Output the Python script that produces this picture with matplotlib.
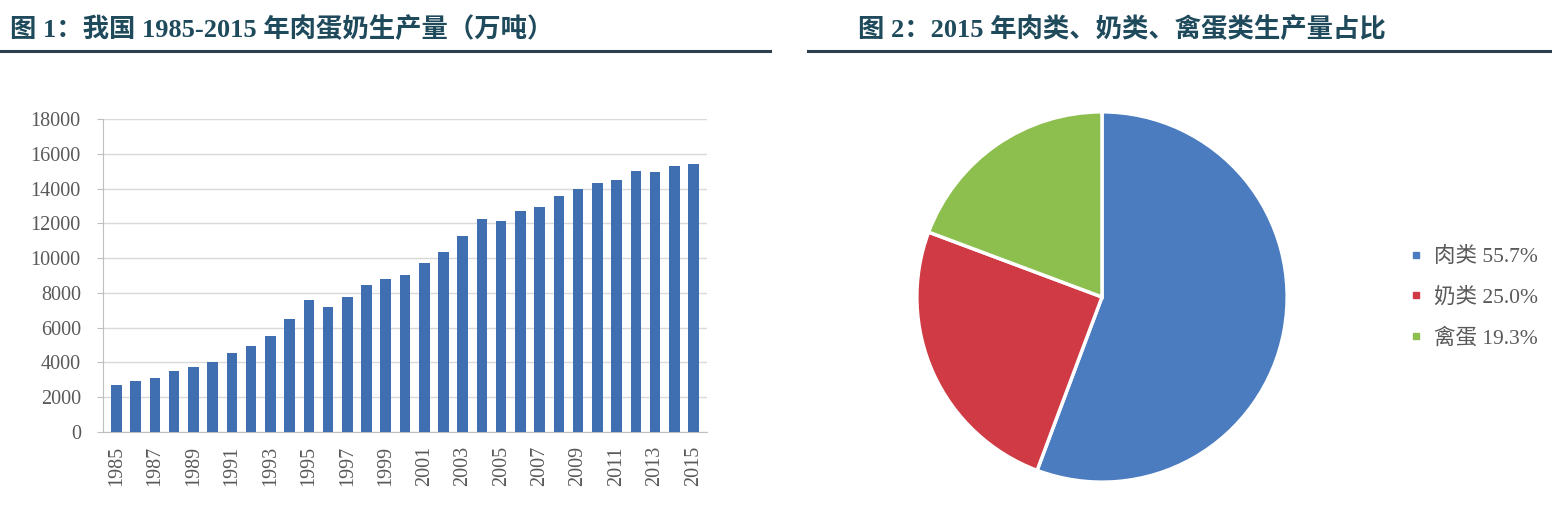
import matplotlib.pyplot as plt
from matplotlib.lines import Line2D

plt.rcParams['font.family'] = ['Liberation Serif', 'Noto Sans CJK SC']

# 图1 数据（万吨）
years = list(range(1985, 2016))
output = [2700, 2920, 3090, 3520, 3750, 4050, 4530, 4940, 5530, 6510,
          7570, 7200, 7780, 8430, 8820, 9010, 9710, 10340, 11300, 12230,
          12120, 12730, 12920, 13590, 13950, 14310, 14470, 15020, 14940, 15320,
          15400]
yticks = list(range(0, 18001, 2000))

# 图2 数据
pie_labels = ['肉类', '奶类', '禽蛋']
pie_shares = [55.7, 25.0, 19.3]
pie_colors = ['#4a7cbf', '#cf3a44', '#8dbf4e']

W, H = 1552, 516
fig = plt.figure(figsize=(W / 100, H / 100), dpi=100)

title_color = '#1e4a5c'
fig.text(10 / W, 1 - 29 / H, '图 1：我国 1985-2015 年肉蛋奶生产量（万吨）',
         fontsize=19, fontweight='bold', color=title_color, va='center', ha='left')
fig.text(858 / W, 1 - 29 / H, '图 2：2015 年肉类、奶类、禽蛋类生产量占比',
         fontsize=19, fontweight='bold', color=title_color, va='center', ha='left')
fig.add_artist(Line2D([0, 770 / W], [1 - 51 / H] * 2, color='#2e3f4d', lw=2.2))
fig.add_artist(Line2D([808 / W, 1], [1 - 51 / H] * 2, color='#2e3f4d', lw=2.2))

# 柱状图
ax = fig.add_axes([103 / W, (H - 432) / H, 604 / W, 313 / H])
ax.bar(years, output, width=0.55, color='#3f6fb0', zorder=3)
ax.set_xlim(years[0] - 0.7, years[-1] + 0.7)
ax.set_ylim(0, 18000)
ax.set_yticks(yticks)
ax.set_yticklabels([str(v) for v in yticks], fontsize=14.5, color='#595959')
ax.set_xticks(years[::2])
ax.set_xticklabels([str(y) for y in years[::2]], rotation=90, fontsize=14.5, color='#595959')
ax.grid(axis='y', color='#d9d9d9', lw=1, zorder=0)
for s in ['top', 'right']:
    ax.spines[s].set_visible(False)
for s in ['left', 'bottom']:
    ax.spines[s].set_color('#bfbfbf')
ax.tick_params(axis='y', length=4, color='#bfbfbf', pad=12)
ax.tick_params(axis='x', length=0, pad=10)

# 饼图
R = 187
ax2 = fig.add_axes([(1102 - R) / W, (H - 297 - R) / H, 2 * R / W, 2 * R / H])
ax2.pie(pie_shares, colors=pie_colors, startangle=90, counterclock=False,
        wedgeprops=dict(edgecolor='white', linewidth=2.5), radius=1)
ax2.set_xlim(-1.01, 1.01)
ax2.set_ylim(-1.01, 1.01)

handles = [Line2D([], [], marker='s', ls='none', markersize=4, color=c) for c in pie_colors]
labels = [f'{n} {v:.1f}%' for n, v in zip(pie_labels, pie_shares)]
leg = fig.legend(handles, labels, loc='center left', bbox_to_anchor=(1388 / W, 1 - 298 / H),
                 frameon=False, fontsize=15.5, labelspacing=0.95, handletextpad=0.45,
                 handlelength=0.8, labelcolor='#595959')

fig.savefig('out.png', dpi=100, facecolor='white')
